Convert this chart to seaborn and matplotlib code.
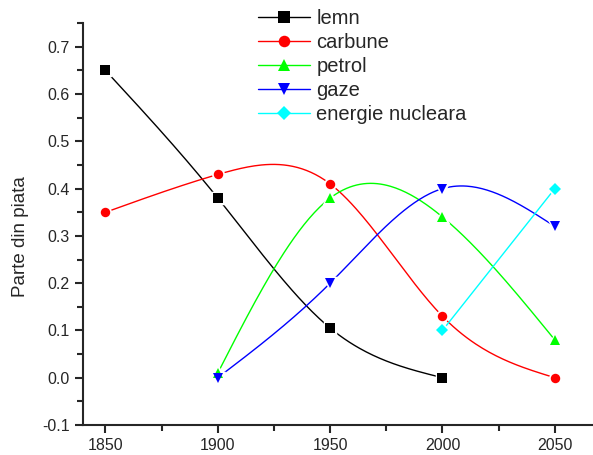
''' Parte din piata a surselor de energie (1850 - 2050) '''

import numpy as np
import pandas as pd
import matplotlib
matplotlib.use('Agg')
import matplotlib.pyplot as plt
from matplotlib.lines import Line2D
from matplotlib.ticker import MultipleLocator, FormatStrFormatter
import seaborn as sns

# Datele
ani_lemn = [1850, 1900, 1950, 2000]
lemn = [0.65, 0.38, 0.105, 0.0]
ani_carbune = [1850, 1900, 1950, 2000, 2050]
carbune = [0.35, 0.43, 0.41, 0.13, 0.0]
ani_petrol = [1900, 1950, 2000, 2050]
petrol = [0.01, 0.38, 0.34, 0.08]
ani_gaze = [1900, 1950, 2000, 2050]
gaze = [0.0, 0.2, 0.4, 0.32]
ani_nucleara = [2000, 2050]
nucleara = [0.1, 0.4]

serii = [
    ('lemn', ani_lemn, lemn, 'black', 's'),
    ('carbune', ani_carbune, carbune, '#ff0000', 'o'),
    ('petrol', ani_petrol, petrol, '#00ff00', '^'),
    ('gaze', ani_gaze, gaze, '#0000ff', 'v'),
    ('energie nucleara', ani_nucleara, nucleara, '#00ffff', 'D'),
]


# Spline cubic natural (ca la conexiunea "spline" din Origin)
def spline(x, y, n=200):
    x = np.asarray(x, float)
    y = np.asarray(y, float)
    xs = np.linspace(x[0], x[-1], n)
    if len(x) < 3:
        return xs, np.interp(xs, x, y)
    m = len(x)
    h = np.diff(x)
    A = np.zeros((m, m))
    r = np.zeros(m)
    A[0, 0] = 1
    A[-1, -1] = 1
    for i in range(1, m - 1):
        A[i, i - 1] = h[i - 1]
        A[i, i] = 2 * (h[i - 1] + h[i])
        A[i, i + 1] = h[i]
        r[i] = 3 * ((y[i + 1] - y[i]) / h[i] - (y[i] - y[i - 1]) / h[i - 1])
    c = np.linalg.solve(A, r)
    b = (y[1:] - y[:-1]) / h - h * (2 * c[:-1] + c[1:]) / 3
    d = (c[1:] - c[:-1]) / (3 * h)
    idx = np.clip(np.searchsorted(x, xs, side='right') - 1, 0, m - 2)
    t = xs - x[idx]
    ys = y[idx] + b[idx] * t + c[idx] * t ** 2 + d[idx] * t ** 3
    return xs, ys


def marime(mk):
    return 6.0 if mk == 'D' else 6.8


sns.set_style("ticks")
plt.rcParams['font.family'] = ['Liberation Sans', 'DejaVu Sans']

fig = plt.figure(figsize=(5.93, 4.55), dpi=100)
ax = fig.add_axes([0.14, 0.066, 0.86, 0.883])

curbe = []
puncte = []
for nume, ani, val, cul, mk in serii:
    xs, ys = spline(ani, val)
    curbe.append(pd.DataFrame({'an': xs, 'val': ys, 'sursa': nume}))
    puncte.append(pd.DataFrame({'an': ani, 'val': val, 'sursa': nume}))
df_curbe = pd.concat(curbe)
df_puncte = pd.concat(puncte)

paleta = {s[0]: s[3] for s in serii}

sns.lineplot(ax=ax, data=df_curbe, x='an', y='val', hue='sursa', palette=paleta,
             linewidth=1, legend=False, sort=False, estimator=None)
for nume, ani, val, cul, mk in serii:
    sub = df_puncte[df_puncte['sursa'] == nume]
    # contur alb ca sa apara golul dintre linie si marker
    ax.plot(sub['an'], sub['val'], linestyle='none', marker=mk, color=cul,
            markersize=marime(mk), markeredgecolor='white',
            markeredgewidth=2.5, zorder=3)
    ax.plot(sub['an'], sub['val'], linestyle='none', marker=mk, color=cul,
            markersize=marime(mk), markeredgewidth=0, zorder=4)

ax.set_xlim(1840, 2067)
ax.set_ylim(-0.1, 0.75)
ax.xaxis.set_major_locator(MultipleLocator(50))
ax.xaxis.set_minor_locator(MultipleLocator(25))
ax.yaxis.set_major_locator(MultipleLocator(0.1))
ax.yaxis.set_minor_locator(MultipleLocator(0.05))
ax.yaxis.set_major_formatter(FormatStrFormatter('%.1f'))
ax.tick_params(which='major', length=6, width=1.5, labelsize=11.5, direction='out')
ax.tick_params(which='minor', length=4, width=1.5, direction='out')
for sp in ['top', 'right']:
    ax.spines[sp].set_visible(False)
for sp in ['left', 'bottom']:
    ax.spines[sp].set_linewidth(1.5)

ax.set_xlabel('')
ax.set_ylabel('Parte din piata', fontsize=13.5)
ax.yaxis.set_label_coords(-0.105, 0.468)

handles = [Line2D([], [], color=s[3], marker=s[4], linewidth=1,
                  markersize=marime(s[4]) + 1.5, markeredgewidth=0)
           for s in serii]
ax.legend(handles, [s[0] for s in serii], loc='upper left', frameon=False,
          fontsize=14.5, bbox_to_anchor=(0.327, 1.055), handlelength=2.6,
          handletextpad=0.3, labelspacing=0.25, borderaxespad=0)

fig.savefig('out.png', dpi=100)
